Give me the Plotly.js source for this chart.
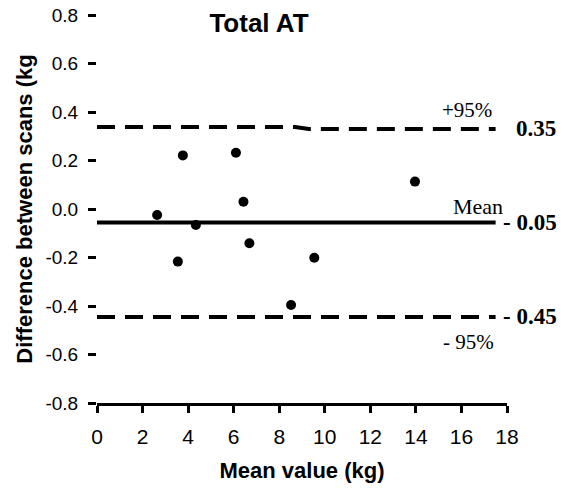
<!DOCTYPE html>
<html>
<head>
<meta charset="utf-8">
<script src="https://cdn.plot.ly/plotly-3.0.1.min.js"></script>
<style>html,body{margin:0;padding:0;background:#fff;}#chart{width:561px;height:490px;}</style>
</head>
<body>
<div id="chart"></div>
<script>
// Data
const meanValues = [2.64, 3.77, 6.10, 6.43, 4.34, 6.69, 3.55, 9.54, 8.52, 13.96];
const differences = [-0.025, 0.221, 0.232, 0.030, -0.066, -0.141, -0.217, -0.201, -0.396, 0.113];
const meanDiff = -0.056;
const upperX = [0, 8.7, 9.3, 17.5];
const upperY = [0.338, 0.338, 0.330, 0.330];
const lowerX = [0, 17.5];
const lowerY = [-0.445, -0.445];
const meanX = [0, 17.5];
const xTicks = [0, 2, 4, 6, 8, 10, 12, 14, 16, 18];
const yTicks = [-0.8, -0.6, -0.4, -0.2, 0.0, 0.2, 0.4, 0.6, 0.8];
const yTickText = ["-0.8", "-0.6", "-0.4", "-0.2", "0.0", "0.2", "0.4", "0.6", "0.8"];
const upperLabel = "0.35", meanLabel = "- 0.05", lowerLabel = "- 0.45";

const sans = "Liberation Sans, Arial, sans-serif";
const serif = "Liberation Serif, Times New Roman, serif";

const traces = [
  {x: meanX, y: [meanDiff, meanDiff], mode: "lines", line: {color: "black", width: 4}, hoverinfo: "skip"},
  {x: upperX, y: upperY, mode: "lines", line: {color: "black", width: 4, dash: "18px,10px"}, hoverinfo: "skip"},
  {x: lowerX, y: lowerY, mode: "lines", line: {color: "black", width: 4, dash: "18px,10px"}, hoverinfo: "skip"},
  {x: meanValues, y: differences, mode: "markers", marker: {color: "black", size: 10}, cliponaxis: false}
];

const layout = {
  width: 561, height: 490,
  margin: {l: 97, r: 54, t: 15, b: 87},
  paper_bgcolor: "white", plot_bgcolor: "white",
  showlegend: false,
  title: {text: "<b>Total AT</b>", font: {family: sans, size: 26, color: "black"}, x: 259/561, xanchor: "center", y: 1 - 23/490, yanchor: "middle"},
  xaxis: {
    range: [0, 18], tickvals: xTicks, ticktext: xTicks.map(String),
    showgrid: false, zeroline: false, showline: true, linewidth: 3, linecolor: "black",
    ticks: "outside", ticklen: 7, tickwidth: 3, tickcolor: "black",
    tickfont: {family: sans, size: 21, color: "black"},
    ticklabelstandoff: 6,
    title: {text: "<b>Mean value (kg)</b>", font: {family: sans, size: 22, color: "black"}, standoff: 16}
  },
  yaxis: {
    range: [-0.8, 0.8], tickvals: yTicks, ticktext: yTickText,
    showgrid: false, zeroline: false, showline: false,
    ticks: "outside", ticklen: 8, tickwidth: 3, tickcolor: "black",
    tickfont: {family: sans, size: 19, color: "black"},
    ticklabelstandoff: 6,
    title: {text: "<b>Difference between scans (kg</b>", font: {family: sans, size: 22, color: "black"}, standoff: 6}
  },
  annotations: [
    {xref: "paper", yref: "y", x: (494 - 97) / 410, y: upperY[3], yshift: 19, xanchor: "right", yanchor: "middle", text: "+95%", showarrow: false, font: {family: serif, size: 21, color: "black"}},
    {xref: "paper", yref: "y", x: (558 - 97) / 410, y: upperY[3], xanchor: "right", yanchor: "middle", text: "<b>" + upperLabel + "</b>", showarrow: false, font: {family: serif, size: 23, color: "black"}},
    {xref: "paper", yref: "y", x: (505 - 97) / 410, y: meanDiff, yshift: 16, xanchor: "right", yanchor: "middle", text: "Mean", showarrow: false, font: {family: serif, size: 22, color: "black"}},
    {xref: "paper", yref: "y", x: (559 - 97) / 410, y: meanDiff, xanchor: "right", yanchor: "middle", text: "<b>" + meanLabel + "</b>", showarrow: false, font: {family: serif, size: 23, color: "black"}},
    {xref: "paper", yref: "y", x: (559 - 97) / 410, y: lowerY[1], xanchor: "right", yanchor: "middle", text: "<b>" + lowerLabel + "</b>", showarrow: false, font: {family: serif, size: 23, color: "black"}},
    {xref: "paper", yref: "y", x: (496 - 97) / 410, y: lowerY[1], yshift: -25, xanchor: "right", yanchor: "middle", text: "- 95%", showarrow: false, font: {family: serif, size: 21, color: "black"}}
  ]
};

Plotly.newPlot("chart", traces, layout, {staticPlot: true, displayModeBar: false});
</script>
</body>
</html>
